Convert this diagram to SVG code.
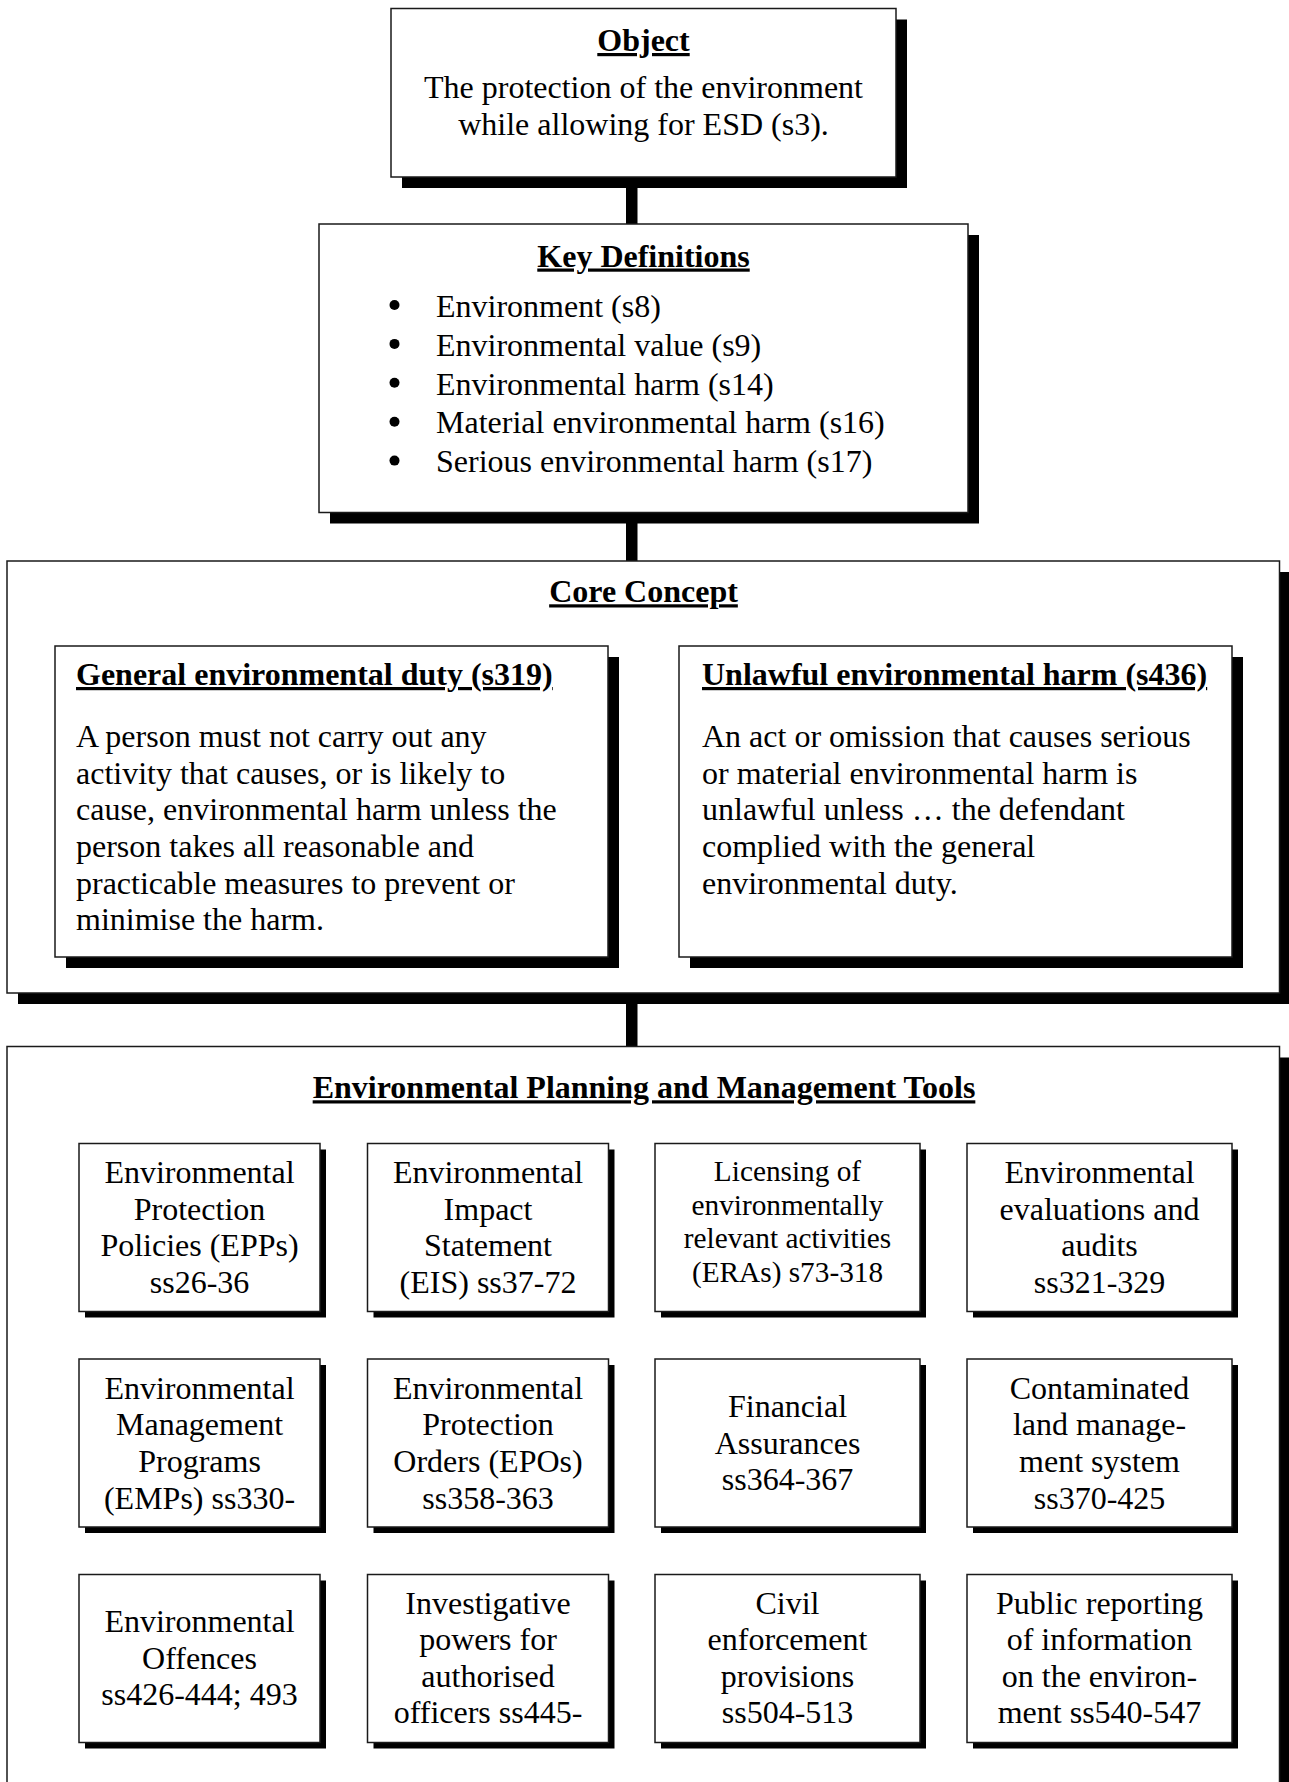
<svg xmlns="http://www.w3.org/2000/svg" width="1289" height="1782" viewBox="0 0 1289 1782">
<style>
.sh{fill:#000}
.box{fill:#fff;stroke:#1a1a1a;stroke-width:1.5}
.cn{fill:#000}
text{font-family:"Liberation Serif","Times New Roman",serif;font-size:32px;fill:#000}
.h{font-weight:bold;text-decoration:underline}
.c{text-anchor:middle}
.s{font-size:29.3px}
</style>
<rect width="1289" height="1782" fill="#fff"/>
<g id="connectors">
<rect class="cn" x="626" y="186" width="11.5" height="39"/>
<rect class="cn" x="626" y="521" width="11.5" height="41"/>
<rect class="cn" x="626" y="1002" width="11.5" height="45"/>
<rect class="cn" x="617" y="808" width="63" height="12"/>
</g>
<g id="object">
<rect class="sh" x="402" y="19.5" width="505" height="168.5"/>
<rect class="box" x="391" y="8.5" width="505" height="168.5"/>
<text class="h c" x="643.5" y="51">Object</text>
<text class="c" x="643.5" y="98.3">The protection of the environment</text>
<text class="c" x="643.5" y="135">while allowing for ESD (s3).</text>
</g>
<g id="key-definitions">
<rect class="sh" x="330" y="235" width="649" height="288.5"/>
<rect class="box" x="319" y="224" width="649" height="288.5"/>
<text class="h c" x="643.5" y="266.5">Key Definitions</text>
<circle cx="394.5" cy="305" r="5"/>
<circle cx="394.5" cy="343.9" r="5"/>
<circle cx="394.5" cy="382.8" r="5"/>
<circle cx="394.5" cy="421.7" r="5"/>
<circle cx="394.5" cy="460.6" r="5"/>
<text x="436" y="316.7">Environment (s8)</text>
<text x="436" y="355.6">Environmental value (s9)</text>
<text x="436" y="394.5">Environmental harm (s14)</text>
<text x="436" y="433.4">Material environmental harm (s16)</text>
<text x="436" y="472.3">Serious environmental harm (s17)</text>
</g>
<g id="core-concept">
<rect class="sh" x="18" y="572" width="1272.5" height="432"/>
<rect class="box" x="7" y="561" width="1272.5" height="432"/>
<text class="h c" x="643.5" y="602.3">Core Concept</text>
</g>
<g id="general-duty">
<rect class="sh" x="66" y="657" width="553" height="311"/>
<rect class="box" x="55" y="646" width="553" height="311"/>
<text class="h" x="76" y="685">General environmental duty (s319)</text>
<text x="76" y="747">A person must not carry out any</text>
<text x="76" y="783.7">activity that causes, or is likely to</text>
<text x="76" y="820.3">cause, environmental harm unless the</text>
<text x="76" y="857">person takes all reasonable and</text>
<text x="76" y="893.7">practicable measures to prevent or</text>
<text x="76" y="930.3">minimise the harm.</text>
</g>
<g id="unlawful-harm">
<rect class="sh" x="690" y="657" width="553" height="311"/>
<rect class="box" x="679" y="646" width="553" height="311"/>
<text class="h" x="702" y="685">Unlawful environmental harm (s436)</text>
<text x="702" y="747">An act or omission that causes serious</text>
<text x="702" y="783.7">or material environmental harm is</text>
<text x="702" y="820.3">unlawful unless … the defendant</text>
<text x="702" y="857">complied with the general</text>
<text x="702" y="893.7">environmental duty.</text>
</g>
<g id="tools">
<rect class="sh" x="18" y="1057.5" width="1272.5" height="800"/>
<rect class="box" x="7" y="1046.5" width="1272.5" height="800"/>
<text class="h c" x="644" y="1098.3">Environmental Planning and Management Tools</text>
</g>
<g id="epp">
<rect class="sh" x="85" y="1149.5" width="241" height="168"/>
<rect class="box" x="79" y="1143.5" width="241" height="168"/>
<text class="c" x="199.5" y="1183">Environmental</text>
<text class="c" x="199.5" y="1219.7">Protection</text>
<text class="c" x="199.5" y="1256.3">Policies (EPPs)</text>
<text class="c" x="199.5" y="1293">ss26-36</text>
</g>
<g id="eis">
<rect class="sh" x="373.5" y="1149.5" width="241" height="168"/>
<rect class="box" x="367.5" y="1143.5" width="241" height="168"/>
<text class="c" x="488" y="1183">Environmental</text>
<text class="c" x="488" y="1219.7">Impact</text>
<text class="c" x="488" y="1256.3">Statement</text>
<text class="c" x="488" y="1293">(EIS) ss37-72</text>
</g>
<g id="era">
<rect class="sh" x="661" y="1149.5" width="265" height="168"/>
<rect class="box" x="655" y="1143.5" width="265" height="168"/>
<text class="c s" x="787.5" y="1180.7">Licensing of</text>
<text class="c s" x="787.5" y="1214.5">environmentally</text>
<text class="c s" x="787.5" y="1248.3">relevant activities</text>
<text class="c s" x="787.5" y="1282">(ERAs) s73-318</text>
</g>
<g id="evaluations">
<rect class="sh" x="973" y="1149.5" width="265" height="168"/>
<rect class="box" x="967" y="1143.5" width="265" height="168"/>
<text class="c" x="1099.5" y="1183">Environmental</text>
<text class="c" x="1099.5" y="1219.7">evaluations and</text>
<text class="c" x="1099.5" y="1256.3">audits</text>
<text class="c" x="1099.5" y="1293">ss321-329</text>
</g>
<g id="emp">
<rect class="sh" x="85" y="1365" width="241" height="168"/>
<rect class="box" x="79" y="1359" width="241" height="168"/>
<text class="c" x="199.5" y="1398.7">Environmental</text>
<text class="c" x="199.5" y="1435.3">Management</text>
<text class="c" x="199.5" y="1472">Programs</text>
<text class="c" x="199.5" y="1508.7">(EMPs) ss330-</text>
</g>
<g id="epo">
<rect class="sh" x="373.5" y="1365" width="241" height="168"/>
<rect class="box" x="367.5" y="1359" width="241" height="168"/>
<text class="c" x="488" y="1398.7">Environmental</text>
<text class="c" x="488" y="1435.3">Protection</text>
<text class="c" x="488" y="1472">Orders (EPOs)</text>
<text class="c" x="488" y="1508.7">ss358-363</text>
</g>
<g id="financial">
<rect class="sh" x="661" y="1365" width="265" height="168"/>
<rect class="box" x="655" y="1359" width="265" height="168"/>
<text class="c" x="787.5" y="1417">Financial</text>
<text class="c" x="787.5" y="1453.5">Assurances</text>
<text class="c" x="787.5" y="1490">ss364-367</text>
</g>
<g id="contaminated">
<rect class="sh" x="973" y="1365" width="265" height="168"/>
<rect class="box" x="967" y="1359" width="265" height="168"/>
<text class="c" x="1099.5" y="1398.7">Contaminated</text>
<text class="c" x="1099.5" y="1435.3">land manage-</text>
<text class="c" x="1099.5" y="1472">ment system</text>
<text class="c" x="1099.5" y="1508.7">ss370-425</text>
</g>
<g id="offences">
<rect class="sh" x="85" y="1580.5" width="241" height="168"/>
<rect class="box" x="79" y="1574.5" width="241" height="168"/>
<text class="c" x="199.5" y="1632">Environmental</text>
<text class="c" x="199.5" y="1668.5">Offences</text>
<text class="c" x="199.5" y="1705">ss426-444; 493</text>
</g>
<g id="investigative">
<rect class="sh" x="373.5" y="1580.5" width="241" height="168"/>
<rect class="box" x="367.5" y="1574.5" width="241" height="168"/>
<text class="c" x="488" y="1613.5">Investigative</text>
<text class="c" x="488" y="1650">powers for</text>
<text class="c" x="488" y="1686.7">authorised</text>
<text class="c" x="488" y="1723.3">officers ss445-</text>
</g>
<g id="civil">
<rect class="sh" x="661" y="1580.5" width="265" height="168"/>
<rect class="box" x="655" y="1574.5" width="265" height="168"/>
<text class="c" x="787.5" y="1613.5">Civil</text>
<text class="c" x="787.5" y="1650">enforcement</text>
<text class="c" x="787.5" y="1686.7">provisions</text>
<text class="c" x="787.5" y="1723.3">ss504-513</text>
</g>
<g id="public-reporting">
<rect class="sh" x="973" y="1580.5" width="265" height="168"/>
<rect class="box" x="967" y="1574.5" width="265" height="168"/>
<text class="c" x="1099.5" y="1613.5">Public reporting</text>
<text class="c" x="1099.5" y="1650">of information</text>
<text class="c" x="1099.5" y="1686.7">on the environ-</text>
<text class="c" x="1099.5" y="1723.3">ment ss540-547</text>
</g>
</svg>
